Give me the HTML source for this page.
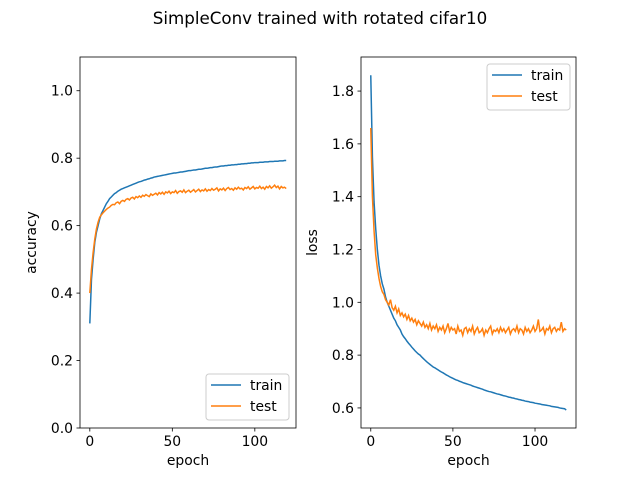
<!DOCTYPE html>
<html><head><meta charset="utf-8"><style>
body{margin:0;background:#fff}
svg{display:block;font-family:"DejaVu Sans","Liberation Sans",sans-serif}
</style></head><body>
<svg id="fig" width="640" height="480">
<rect width="640" height="480" fill="#fff"/>
<text x="320" y="24" text-anchor="middle" font-size="16.7">SimpleConv trained with rotated cifar10</text>
</svg>
<script>
const epochs = Array.from({length:120},(_, i)=>i);
const trainAcc=[.31,.44,.50,.55,.58,.60,.62,.635,.645,.655,
.665,.672,.68,.685,.69,.695,.698,.702,.705,.708,
.71,.712,.714,.716,.718,.72,.722,.724,.726,.728,
.73,.731,.733,.735,.736,.738,.739,.741,.742,.744,
.745,.746,.747,.748,.749,.75,.751,.752,.753,.754,
.755,.756,.756,.757,.758,.759,.759,.76,.761,.762,
.763,.763,.764,.765,.765,.766,.767,.767,.768,.769,
.77,.77,.771,.772,.772,.773,.774,.774,.775,.776,
.777,.777,.778,.778,.779,.779,.78,.78,.781,.781,
.782,.782,.783,.783,.784,.784,.785,.785,.786,.786,
.787,.787,.787,.788,.788,.788,.789,.789,.789,.79,
.79,.79,.791,.791,.791,.792,.792,.792,.793,.793];
const testAcc=[.40,.47,.52,.56,.59,.61,.625,.632,.638,.643,
.648,.652,.655,.66,.663,.662,.668,.67,.665,.672,
.675,.672,.678,.68,.676,.682,.684,.679,.686,.683,
.688,.684,.69,.687,.692,.689,.686,.694,.69,.693,
.696,.691,.698,.694,.699,.693,.7,.697,.702,.695,
.70,.698,.704,.696,.701,.703,.699,.706,.698,.702,
.705,.699,.703,.707,.7,.704,.708,.701,.706,.703,
.709,.702,.707,.704,.71,.705,.708,.712,.703,.709,
.706,.711,.704,.71,.713,.707,.71,.705,.712,.708,
.714,.709,.711,.706,.713,.71,.715,.708,.712,.716,
.709,.713,.711,.717,.71,.714,.708,.716,.712,.718,
.711,.715,.72,.713,.717,.709,.716,.712,.714,.71];
const trainLoss=[1.86,1.55,1.38,1.28,1.20,1.14,1.10,1.07,1.05,1.02,
1.00,.985,.97,.955,.94,.93,.915,.905,.895,.88,
.87,.862,.853,.845,.838,.83,.823,.816,.81,.804,
.80,.793,.787,.781,.775,.77,.765,.76,.755,.752,
.748,.744,.74,.736,.733,.729,.725,.722,.718,.715,
.712,.709,.706,.704,.701,.699,.696,.694,.692,.69,
.688,.686,.683,.681,.679,.677,.675,.673,.671,.668,
.666,.664,.662,.661,.659,.657,.655,.653,.652,.65,
.648,.646,.645,.643,.641,.64,.638,.637,.635,.634,
.632,.631,.629,.628,.626,.625,.624,.622,.621,.62,
.618,.617,.616,.615,.613,.612,.611,.61,.609,.608,
.606,.605,.604,.603,.602,.6,.599,.598,.597,.592];
const testLoss=[1.66,1.40,1.27,1.18,1.13,1.09,1.06,1.04,1.03,1.01,
1.00,.99,1.01,.98,.97,.985,.96,.975,.95,.96,
.945,.955,.935,.95,.93,.94,.925,.935,.915,.93,
.92,.91,.925,.905,.915,.9,.92,.895,.91,.9,
.915,.89,.905,.895,.91,.885,.9,.92,.89,.905,
.895,.9,.88,.91,.89,.895,.875,.9,.905,.885,
.9,.89,.91,.88,.895,.905,.885,.89,.9,.875,
.895,.885,.9,.91,.88,.895,.89,.9,.885,.905,
.89,.9,.885,.895,.905,.88,.895,.9,.89,.91,
.885,.9,.895,.88,.905,.89,.9,.885,.895,.91,
.89,.9,.935,.89,.895,.905,.88,.9,.895,.91,
.885,.9,.905,.89,.9,.895,.925,.89,.9,.895];
const xTicks=[0,50,100];
const accTicks=[0.0,0.2,0.4,0.6,0.8,1.0];
const lossTicks=[0.6,0.8,1.0,1.2,1.4,1.6,1.8];
const seriesNames=["train","test"];

const NS="http://www.w3.org/2000/svg";
const svg=document.getElementById('fig');
function mk(t,a,p){const e=document.createElementNS(NS,t);for(const k in a)e.setAttribute(k,a[k]);(p||svg).appendChild(e);return e;}

function panel(name,L,R,T,B,ymin,ymax,yTicks,dec,ylabel,s1,s2,legX,legY){
  const xs=v=>L+(v-(-5.95))/(124.95-(-5.95))*(R-L);
  const ys=v=>B-(v-ymin)/(ymax-ymin)*(B-T);
  const g=mk('g',{});
  
  
  [[s1,'#1f77b4','train'],[s2,'#ff7f0e','test']].forEach(([d,c,n])=>{
    const p=mk('polyline',{points:d.map((v,i)=>xs(epochs[i]).toFixed(2)+','+ys(v).toFixed(2)).join(' '),fill:'none',stroke:c,'stroke-width':1.5},g);
    
    
  });
  const fr=mk('rect',{x:L,y:T,width:R-L,height:B-T,fill:'none',stroke:'#000','stroke-width':0.8},g);
  
  
  xTicks.forEach(t=>{
    const x=xs(t);
    mk('line',{x1:x,x2:x,y1:B,y2:B+3.5,stroke:'#000','stroke-width':0.8},g);
    const tx=mk('text',{x:x,y:B+18,'text-anchor':'middle','font-size':13.9},g);
    tx.textContent=t;
    
    
  });
  yTicks.forEach(t=>{
    const y=ys(t);
    mk('line',{x1:L-3.5,x2:L,y1:y,y2:y,stroke:'#000','stroke-width':0.8},g);
    const tx=mk('text',{x:L-7,y:y+5,'text-anchor':'end','font-size':13.9},g);
    tx.textContent=t.toFixed(dec);
    
    
  });
  const xl=mk('text',{x:(L+R)/2,y:B+37,'text-anchor':'middle','font-size':13.9},g);
  xl.textContent='epoch';
  
  
  const cy=(T+B)/2;
  const yl=mk('text',{x:L-44,y:cy,'text-anchor':'middle','font-size':13.9,transform:`rotate(-90 ${L-44} ${cy})`},g);
  yl.textContent=ylabel;
  
  
  const lg=mk('g',{},g);
  
  
  mk('rect',{x:legX,y:legY,width:83,height:46,rx:3,fill:'#fff','fill-opacity':0.8,stroke:'#ccc','stroke-width':1},lg);
  seriesNames.forEach((n,i)=>{
    const y=legY+11+i*21;
    mk('line',{x1:legX+5,x2:legX+35,y1:y,y2:y,stroke:i?'#ff7f0e':'#1f77b4','stroke-width':1.5},lg);
    const t=mk('text',{x:legX+44,y:y+5,'font-size':13.9},lg);
    t.textContent=n;
    
    
  });
}
panel('accuracy',80,296,57,428,0,1.1,accTicks,1,'accuracy',trainAcc,testAcc,206,374);
panel('loss',361,576,57,428,0.524,1.929,lossTicks,1,'loss',trainLoss,testLoss,487,64);
</script>
</body></html>
